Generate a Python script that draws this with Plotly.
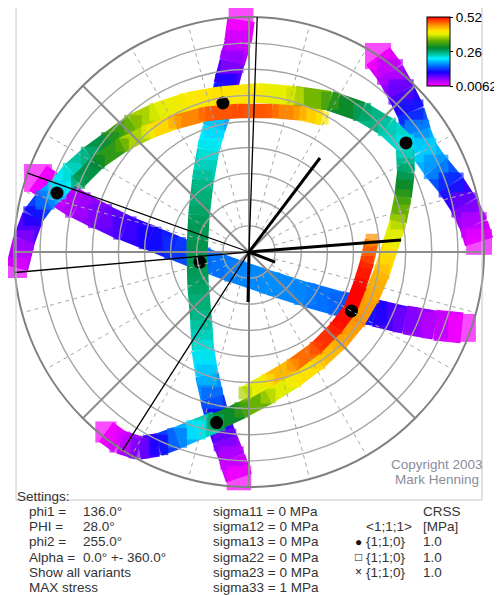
import numpy as np
import plotly.graph_objects as go
from plotly.colors import sample_colorscale

# ---------------- data (projected pole-figure coordinates, unit circle = 90 deg) -------------
VMIN, VMAX = 0.0062, 0.52
CBAR_TICKS = [0.0062, 0.26, 0.52]
CBAR_LABELS = ["0.0062", "0.26", "0.52"]

RING_TILTS = [10, 20, 30, 40, 50, 60, 70, 80]

# band traces: x, y, value (resolved stress)
H_x = [-0.898, -0.813, -0.728, -0.634, -0.528, -0.421, -0.315, -0.209, -0.060, 0.089, 0.238, 0.387, 0.536, 0.664, 0.791, 0.906]
H_y = [0.315, 0.255, 0.200, 0.153, 0.102, 0.060, 0.017, -0.026, -0.081, -0.132, -0.179, -0.221, -0.260, -0.289, -0.311, -0.323]
H_v = [0.01, 0.03, 0.05, 0.07, 0.09, 0.11, 0.13, 0.15, 0.165, 0.17, 0.165, 0.15, 0.11, 0.07, 0.04, 0.01]

V_x = [-0.034, -0.047, -0.072, -0.098, -0.119, -0.149, -0.174, -0.196, -0.213, -0.221, -0.217, -0.204, -0.196, -0.179, -0.157, -0.132, -0.102, -0.072, -0.043]
V_y = [0.987, 0.894, 0.809, 0.711, 0.613, 0.528, 0.434, 0.306, 0.157, 0.009, -0.140, -0.289, -0.417, -0.523, -0.621, -0.715, -0.800, -0.877, -0.962]
V_v = [0.01, 0.03, 0.06, 0.11, 0.16, 0.20, 0.22, 0.25, 0.27, 0.28, 0.27, 0.25, 0.22, 0.19, 0.15, 0.11, 0.07, 0.04, 0.01]

L_x = [-0.140, -0.226, -0.306, -0.387, -0.468, -0.549, -0.609]
L_y = [-0.723, -0.757, -0.791, -0.821, -0.834, -0.809, -0.766]
L_v = [0.26, 0.21, 0.16, 0.11, 0.07, 0.03, 0.01]

E_x = [0.549, 0.600, 0.647, 0.689, 0.715, 0.745, 0.796, 0.860, 0.915, 0.957, 0.979]
E_y = [0.834, 0.766, 0.681, 0.596, 0.511, 0.434, 0.362, 0.285, 0.200, 0.115, 0.043]
E_v = [0.01, 0.04, 0.08, 0.12, 0.17, 0.20, 0.17, 0.12, 0.07, 0.04, 0.015]

A_x = [-0.987, -0.957, -0.919, -0.868, -0.817, -0.753, -0.677, -0.591, -0.494, -0.387, -0.260, -0.115, 0.038, 0.196, 0.345, 0.481, 0.587, 0.664]
A_y = [-0.068, 0.051, 0.153, 0.221, 0.264, 0.340, 0.409, 0.472, 0.545, 0.596, 0.638, 0.664, 0.677, 0.664, 0.643, 0.596, 0.532, 0.460]
A_v = [0.02, 0.06, 0.11, 0.16, 0.20, 0.23, 0.26, 0.30, 0.35, 0.39, 0.41, 0.42, 0.41, 0.38, 0.32, 0.27, 0.24, 0.22]

B_x = [-0.728, -0.643, -0.540, -0.430, -0.315, -0.187, -0.047, 0.098, 0.217, 0.311]
B_y = [0.298, 0.383, 0.455, 0.511, 0.553, 0.587, 0.600, 0.600, 0.591, 0.570]
B_v = [0.27, 0.29, 0.34, 0.40, 0.45, 0.48, 0.49, 0.48, 0.45, 0.41]

RO_x = [0.664, 0.668, 0.655, 0.634, 0.600, 0.566, 0.523, 0.464, 0.387, 0.294, 0.191, 0.081, -0.030, -0.140]
RO_y = [0.434, 0.340, 0.234, 0.128, 0.021, -0.085, -0.187, -0.289, -0.383, -0.468, -0.545, -0.613, -0.672, -0.723]
RO_v = [0.23, 0.27, 0.32, 0.37, 0.41, 0.44, 0.45, 0.46, 0.45, 0.43, 0.41, 0.37, 0.32, 0.27]

RI_x = [0.523, 0.502, 0.472, 0.434, 0.370, 0.285, 0.187, 0.081, -0.017]
RI_y = [0.051, -0.043, -0.140, -0.238, -0.323, -0.409, -0.481, -0.545, -0.600]
RI_v = [0.46, 0.50, 0.52, 0.52, 0.51, 0.49, 0.46, 0.42, 0.37]

# starting orientation of the poles (black dots)
DOT_x = [-0.111, 0.668, -0.817, -0.209, 0.436, -0.138]
DOT_y = [0.634, 0.464, 0.251, -0.043, -0.251, -0.726]

# crystal axes (thick black lines from the centre)
AX_x = [0.302, 0.647, 0.111, -0.004]
AX_y = [0.400, 0.051, -0.043, -0.213]

# thin black traces (azimuth, degrees)
THIN_AZ = [88, 160.4, 185, 237.5]

SETTINGS_LEFT = [("phi1 =", "136.0°"), ("PHI =", "28.0°"), ("phi2 =", "255.0°"),
                 ("Alpha =", "0.0° +- 360.0°"), ("Show all variants", ""), ("MAX stress", "")]
SIGMAS = ["sigma11 = 0 MPa", "sigma12 = 0 MPa", "sigma13 = 0 MPa",
          "sigma22 = 0 MPa", "sigma23 = 0 MPa", "sigma33 = 1 MPa"]
SYSTEMS = [("●", "{1;1;0}", "1.0"), ("□", "{1;1;0}", "1.0"), ("×", "{1;1;0}", "1.0")]

# ---------------- styling ----------------
OFF = 8                      # page body margin of the html page
W, HGT = 502 - OFF, 595 - OFF
CX, CY, R = 249.0 - OFF, 252.0 - OFF, 235.0
FONT = "Liberation Sans, Arial, sans-serif"

CS = [
    [0.00, "rgb(255,0,255)"],
    [0.10, "rgb(150,0,255)"],
    [0.20, "rgb(20,0,255)"],
    [0.30, "rgb(0,120,255)"],
    [0.40, "rgb(0,240,255)"],
    [0.47, "rgb(0,190,150)"],
    [0.55, "rgb(0,135,50)"],
    [0.65, "rgb(90,170,0)"],
    [0.75, "rgb(230,240,0)"],
    [0.80, "rgb(255,230,0)"],
    [0.88, "rgb(255,150,0)"],
    [1.00, "rgb(255,0,0)"],
]


def col(v):
    t = (v - VMIN) / (VMAX - VMIN)
    t = min(max(t, 0.0), 1.0)
    return sample_colorscale(CS, [t])[0]


def PX(x):
    return (x - OFF) / W


def PY(y):
    return 1 - (y - OFF) / HGT


fig = go.Figure()

bands = [
    (H_x, H_y, H_v, 24),
    (V_x, V_y, V_v, 21),
    (L_x, L_y, L_v, 18),
    (E_x, E_y, E_v, 22),
    (A_x, A_y, A_v, 17),
    (B_x, B_y, B_v, 13),
    (RO_x, RO_y, RO_v, 15),
    (RI_x, RI_y, RI_v, 13),
]

first = True
for xs, ys, vs, w in bands:
    for i in range(len(xs) - 1):
        xm = 0.5 * (xs[i] + xs[i + 1])
        ym = 0.5 * (ys[i] + ys[i + 1])
        width = w * (1 + 0.35 * (xm * xm + ym * ym))
        fig.add_trace(go.Scatter(
            x=[xs[i], xs[i + 1]], y=[ys[i], ys[i + 1]], mode="lines",
            line=dict(color=col(0.5 * (vs[i] + vs[i + 1])), width=width),
            hoverinfo="skip", showlegend=False))
    sizes = [0.88 * w * (1 + 0.35 * (x * x + y * y)) for x, y in zip(xs, ys)]
    marker = dict(symbol="square", size=sizes, color=vs, colorscale=CS,
                  cmin=VMIN, cmax=VMAX, line=dict(width=0), showscale=first)
    if first:
        marker["colorbar"] = dict(
            x=PX(427), xanchor="left", y=PY(17), yanchor="top",
            len=69, lenmode="pixels", thickness=23, thicknessmode="pixels",
            outlinecolor="black", outlinewidth=1, xpad=0, ypad=0, borderwidth=0,
            tickvals=CBAR_TICKS, ticktext=CBAR_LABELS, ticks="outside",
            ticklen=3, tickcolor="black", tickwidth=1,
            tickfont=dict(family=FONT, size=13.5, color="black"))
    fig.add_trace(go.Scatter(x=xs, y=ys, mode="markers", marker=marker,
                             hoverinfo="skip", showlegend=False))
    first = False

shapes = []
# dashed radial grid
for az in range(0, 360, 15):
    if az % 45 == 0:
        continue
    a = np.radians(az)
    r0 = RING_TILTS[0] / 90.0
    shapes.append(dict(type="line", xref="x", yref="y",
                       x0=r0 * np.cos(a), y0=r0 * np.sin(a), x1=np.cos(a), y1=np.sin(a),
                       line=dict(color="#a8a8a8", width=1, dash="4px,4px")))
# rings
for t in RING_TILTS:
    r = t / 90.0
    shapes.append(dict(type="circle", xref="x", yref="y", x0=-r, y0=-r, x1=r, y1=r,
                       line=dict(color="#a4a4a4", width=1.4)))
# main diameters
for az in [0, 45, 90, 135]:
    a = np.radians(az)
    shapes.append(dict(type="line", xref="x", yref="y",
                       x0=-np.cos(a), y0=-np.sin(a), x1=np.cos(a), y1=np.sin(a),
                       line=dict(color="#8c8c8c", width=2)))
# primitive circle
shapes.append(dict(type="circle", xref="x", yref="y", x0=-1, y0=-1, x1=1, y1=1,
                   line=dict(color="#808080", width=2)))
# thin black traces
for az in THIN_AZ:
    a = np.radians(az)
    shapes.append(dict(type="line", xref="x", yref="y", x0=0, y0=0,
                       x1=np.cos(a), y1=np.sin(a), line=dict(color="black", width=1.3)))
# thick crystal axes
for ax_, ay_ in zip(AX_x, AX_y):
    shapes.append(dict(type="line", xref="x", yref="y", x0=0, y0=0, x1=ax_, y1=ay_,
                       line=dict(color="black", width=3)))
# frame
for (x0, y0, x1, y1) in [(16, 4, 16, 500), (482, 4, 482, 500), (16, 500, 482, 500)]:
    shapes.append(dict(type="line", xref="paper", yref="paper",
                       x0=PX(x0), y0=PY(y0), x1=PX(x1), y1=PY(y1),
                       line=dict(color="#c4c4c4", width=1)))

fig.add_trace(go.Scatter(x=DOT_x, y=DOT_y, mode="markers",
                         marker=dict(color="black", size=13, line=dict(width=0)),
                         hoverinfo="skip", showlegend=False))

ann = []


def text(px, py, s, size=13.5, color="#333333", anchor="left"):
    ann.append(dict(x=PX(px), y=PY(py), xref="paper", yref="paper", text=s,
                    showarrow=False, xanchor=anchor, yanchor="middle",
                    font=dict(family=FONT, size=size, color=color)))


text(15, 496.5, "Settings:")
rows_y = [511.7, 526.7, 541.7, 557, 572, 587]
for (lab, val), yy in zip(SETTINGS_LEFT, rows_y):
    text(27, yy, lab)
    if val:
        text(81, yy, val)
for s, yy in zip(SIGMAS, rows_y):
    text(211, yy, s)
text(421, rows_y[0], "CRSS")
text(414, rows_y[1], "<1;1;1>", anchor="right")
text(421, rows_y[1], "[MPa]")
for (sym, fam, crss), yy in zip(SYSTEMS, rows_y[2:5]):
    text(358, yy, sym, size=12, color="#111111", anchor="center")
    text(364, yy, fam)
    text(421, yy, crss)

text(437, 464, "Copyright 2003", color="#8c8c9c", anchor="center")
text(437, 479, "Mark Henning", color="#8c8c9c", anchor="center")

fig.update_layout(
    width=W, height=HGT, margin=dict(l=0, r=0, t=0, b=0),
    paper_bgcolor="white", plot_bgcolor="white", showlegend=False,
    shapes=shapes, annotations=ann,
    xaxis=dict(range=[-CX / R, (W - CX) / R], visible=False, fixedrange=True),
    yaxis=dict(range=[(CY - HGT) / R, CY / R], visible=False, fixedrange=True),
)

fig.write_html("out.html")
